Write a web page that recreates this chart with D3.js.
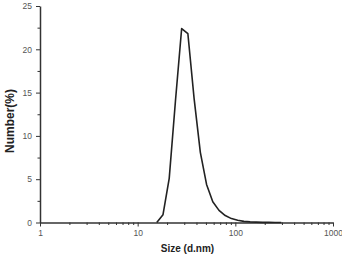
<!DOCTYPE html>
<html>
<head>
<meta charset="utf-8">
<script src="https://cdn.jsdelivr.net/npm/d3@7"></script>
<style>
  body { margin: 0; background: #fff; }
  svg { display: block; font-family: "Liberation Sans", Arial, sans-serif; }
  .axis path, .axis line { stroke: #333; }
  .axis text { fill: #555; font-size: 8.5px; }
</style>
</head>
<body>
<script>
// DLS size bins (d.nm) and number distribution (%)
var sizes = [15.69, 18.17, 21.04, 24.36, 28.21, 32.67, 37.84, 43.82, 50.75, 58.77,
             68.06, 78.82, 91.28, 105.7, 122.4, 141.8, 164.2, 190.1, 220.2, 255.0, 295.3];
var numbers = [0, 0.9, 5.1, 14.0, 22.4, 21.8, 14.3, 8.1, 4.4, 2.4,
               1.4, 0.8, 0.45, 0.25, 0.13, 0.07, 0.04, 0.02, 0.01, 0, 0];
var xTicks = [1, 10, 100, 1000];
var yTicks = [0, 5, 10, 15, 20, 25];

var width = 342, height = 254;

var svg = d3.select("body").append("svg")
  .attr("width", width)
  .attr("height", height);

var x = d3.scaleLog().domain([1, 1000]).range([40, 333]);
var y = d3.scaleLinear().domain([0, 25]).range([222.5, 6]);

// minor ticks
var xMinor = [];
[1, 10, 100].forEach(function(p) {
  for (var k = 2; k <= 9; k++) xMinor.push(p * k);
});
var yMinor = yTicks.slice(0, -1).map(function(d) { return d + 2.5; });

svg.append("g")
  .attr("class", "axis")
  .attr("transform", "translate(0," + y(0) + ")")
  .call(d3.axisBottom(x).tickValues(xMinor).tickSize(2.5).tickFormat(""))
  .call(function(g) { g.select(".domain").remove(); });

svg.append("g")
  .attr("class", "axis")
  .attr("transform", "translate(" + x(1) + ",0)")
  .call(d3.axisLeft(y).tickValues(yMinor).tickSize(2.5).tickFormat(""))
  .call(function(g) { g.select(".domain").remove(); });

svg.append("g")
  .attr("class", "axis")
  .attr("transform", "translate(0," + y(0) + ")")
  .call(d3.axisBottom(x).tickValues(xTicks).tickSize(4).tickSizeOuter(0).tickPadding(3).tickFormat(d3.format("d")))
  .call(function(g) { g.select(".domain").attr("stroke-width", 1.5); });

svg.append("g")
  .attr("class", "axis")
  .attr("transform", "translate(" + x(1) + ",0)")
  .call(d3.axisLeft(y).tickValues(yTicks).tickSize(4).tickSizeOuter(0).tickPadding(4))
  .call(function(g) { g.select(".domain").attr("stroke-width", 1.5); });

// distribution curve
var line = d3.line()
  .x(function(d, i) { return x(sizes[i]); })
  .y(function(d) { return y(d); });

svg.append("path")
  .datum(numbers)
  .attr("d", line)
  .attr("fill", "none")
  .attr("stroke", "#222")
  .attr("stroke-width", 1.6)
  .attr("stroke-linejoin", "round");

// axis titles
svg.append("text")
  .attr("x", 187.5)
  .attr("y", 251.5)
  .attr("text-anchor", "middle")
  .style("font-weight", "bold")
  .style("font-size", "10px")
  .style("fill", "#222")
  .text("Size (d.nm)");

svg.append("text")
  .attr("transform", "translate(14,121) rotate(-90)")
  .attr("text-anchor", "middle")
  .style("font-weight", "bold")
  .style("font-size", "12px")
  .style("fill", "#222")
  .text("Number(%)");
</script>
</body>
</html>
